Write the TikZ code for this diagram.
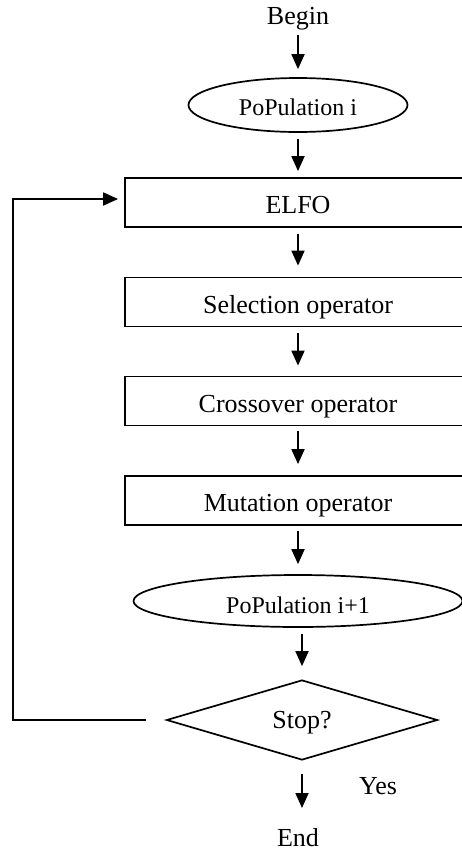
\documentclass[tikz,border=0pt]{standalone}
\usepackage{fontspec}
\setmainfont{Liberation Serif}
\usetikzlibrary{arrows.meta,shapes.geometric}
\begin{document}
\begin{tikzpicture}[x=1pt,y=-1pt,
  plain/.style={inner sep=0pt, font=\fontsize{26}{30}\selectfont},
  box/.style={draw, rectangle, line width=1.8pt, minimum width=346pt, minimum height=49pt,
    inner sep=0pt, text height=22pt, text depth=0pt, font=\fontsize{26}{30}\selectfont},
  ell/.style={draw, ellipse, line width=1.7pt, inner sep=0pt, text depth=0pt,
    font=\fontsize{24}{28}\selectfont},
  dia/.style={draw, diamond, line width=1.7pt, inner sep=0pt, text height=16pt, text depth=0pt,
    font=\fontsize{26}{30}\selectfont},
  arr/.style={line width=1.8pt, -{Triangle[length=15pt,width=13pt]}},
  loopline/.style={line width=1.8pt, line join=miter, -{Triangle[length=15pt,width=13pt]}}
]
\useasboundingbox (0,0) rectangle (462,852);
\clip (0,0) rectangle (462,852);

\node[plain] (begin) at (298,19) {Begin};
\node[ell, minimum width=219pt, minimum height=54pt, text height=20pt] (pop1) at (298,105) {PoPulation i};
\node[box] (elfo) at (298,202.5) {ELFO};
\node[box] (sel) at (298,302) {Selection operator};
\node[box] (cross) at (298,401) {Crossover operator};
\node[box] (mut) at (298,500.5) {Mutation operator};
\node[ell, minimum width=329pt, minimum height=52pt, text height=24pt] (pop2) at (298,601) {PoPulation i+1};
\node[dia, minimum width=271pt, minimum height=80pt] (stop) at (302,720) {Stop?};
\node[plain] (yes) at (378,786.5) {Yes};
\node[plain] (end) at (298,837.5) {End};

\coordinate (lc1) at (13,720);
\coordinate (lc2) at (13,199);

\draw[arr] ([yshift=-16pt]begin.center) -- ([yshift=8pt]pop1.north);
\draw[arr] ([yshift=-6pt]pop1.south) -- ([yshift=6pt]elfo.north);
\draw[arr] ([yshift=-6pt]elfo.south) -- ([yshift=11pt]sel.north);
\draw[arr] ([yshift=-6pt]sel.south) -- ([yshift=10pt]cross.north);
\draw[arr] ([yshift=-5pt]cross.south) -- ([yshift=11pt]mut.north);
\draw[arr] ([yshift=-5pt]mut.south) -- ([yshift=10pt]pop2.north);
\draw[arr] ([xshift=4pt,yshift=-6pt]pop2.south) -- ([yshift=13pt]stop.north);
\draw[arr] ([yshift=-13pt]stop.south) -- ([xshift=4pt,yshift=29.5pt]end.center);
\draw[loopline] ([xshift=-20pt]stop.west) -- (lc1) -- (lc2) -- ([xshift=-6pt]elfo.west |- lc2);
\end{tikzpicture}
\end{document}
